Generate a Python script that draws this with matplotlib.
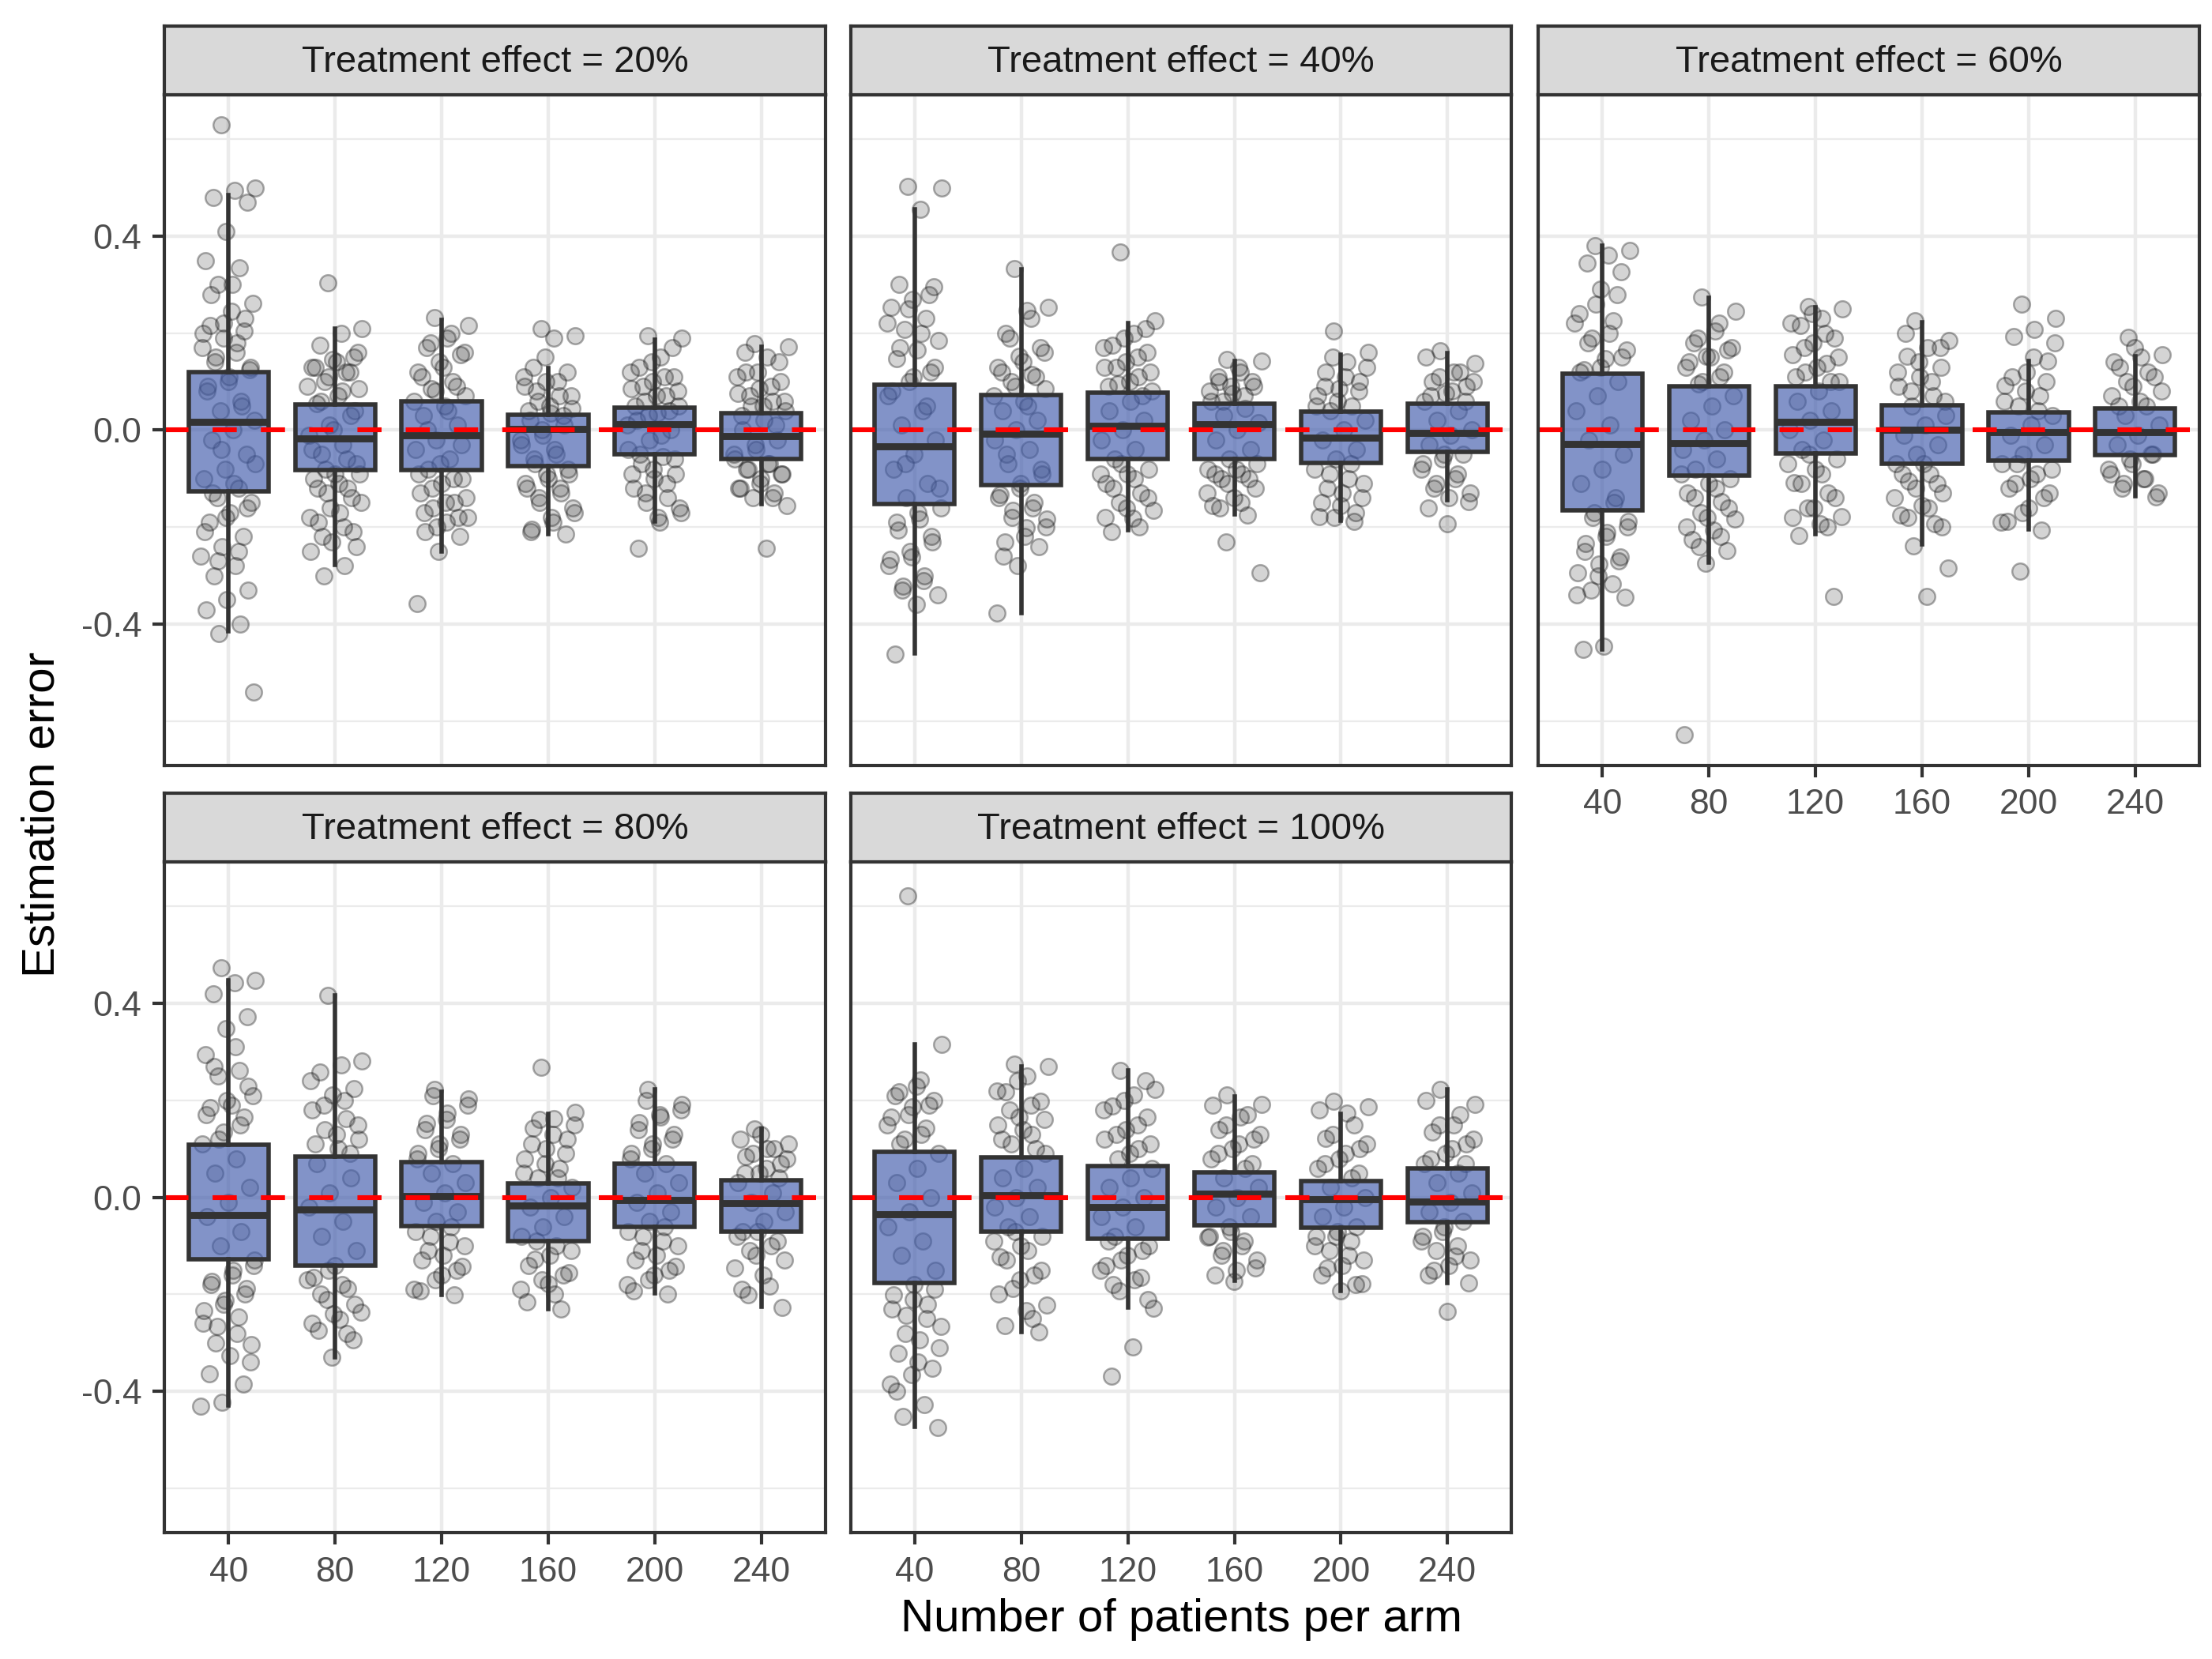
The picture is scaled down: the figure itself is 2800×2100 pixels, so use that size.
import matplotlib
matplotlib.use('Agg')
import matplotlib.pyplot as plt
import numpy as np

plt.rcParams['font.family'] = ['Liberation Sans', 'DejaVu Sans']

########################################################################################
# data
effects = ['20%', '40%', '60%', '80%', '100%']
arm_sizes = ['40', '80', '120', '160', '200', '240']

# box stats per effect: one (whisker low, q1, median, q3, whisker high) per arm size
box_20 = [(-0.414, -0.127, 0.017, 0.120, 0.485), (-0.278, -0.082, -0.018, 0.053, 0.209),
          (-0.251, -0.083, -0.010, 0.060, 0.227), (-0.215, -0.075, 0.002, 0.032, 0.128),
          (-0.188, -0.050, 0.012, 0.046, 0.187), (-0.153, -0.060, -0.013, 0.035, 0.171)]
box_40 = [(-0.460, -0.152, -0.033, 0.094, 0.455), (-0.377, -0.114, -0.008, 0.073, 0.331),
          (-0.207, -0.060, 0.009, 0.077, 0.221), (-0.173, -0.060, 0.012, 0.054, 0.143),
          (-0.187, -0.067, -0.016, 0.038, 0.156), (-0.145, -0.045, -0.006, 0.054, 0.158)]
box_60 = [(-0.452, -0.166, -0.029, 0.116, 0.380), (-0.273, -0.093, -0.027, 0.090, 0.273),
          (-0.214, -0.048, 0.017, 0.090, 0.254), (-0.236, -0.069, 0.001, 0.052, 0.223),
          (-0.205, -0.063, -0.005, 0.036, 0.143), (-0.136, -0.051, -0.005, 0.044, 0.152)]
box_80 = [(-0.429, -0.128, -0.037, 0.108, 0.447), (-0.330, -0.140, -0.025, 0.085, 0.417),
          (-0.201, -0.059, 0.002, 0.073, 0.218), (-0.231, -0.090, -0.017, 0.029, 0.172),
          (-0.197, -0.060, -0.006, 0.069, 0.222), (-0.226, -0.070, -0.012, 0.036, 0.141)]
box_100 = [(-0.473, -0.177, -0.034, 0.094, 0.315), (-0.278, -0.070, 0.004, 0.083, 0.270),
           (-0.227, -0.085, -0.020, 0.064, 0.261), (-0.172, -0.058, 0.007, 0.052, 0.208),
           (-0.192, -0.063, -0.004, 0.033, 0.172), (-0.176, -0.051, -0.008, 0.059, 0.222)]

# individual estimation errors (visible points) per effect and arm size
pts_20 = [
    [0.630, 0.500, 0.495, 0.480, 0.470, 0.410, 0.350, 0.335, 0.300, 0.262, 0.245, 0.215, 0.205, 0.190,
     0.170, 0.160, 0.140, 0.125, 0.10, 0.08, 0.06, 0.04, 0.02, 0.0, -0.02, -0.05, -0.08, -0.10, -0.12,
     -0.14, -0.15, -0.17, -0.19, -0.22, -0.24, -0.26, -0.28, -0.30, -0.33, -0.35, -0.37, -0.40, -0.42, -0.54,
     0.30, 0.28, 0.23, 0.22, 0.20, 0.18, 0.15, 0.13, 0.11, 0.09, 0.05, -0.04, -0.07, -0.11, -0.13, -0.16,
     -0.18, -0.21, -0.25, -0.27],
    [0.304, 0.209, 0.200, 0.175, 0.150, 0.145, 0.130, 0.120, 0.100, 0.085, 0.070, 0.055, 0.03, 0.01,
     -0.01, -0.03, -0.05, -0.07, -0.09, -0.10, -0.12, -0.13, -0.15, -0.17, -0.19, -0.21, -0.23, -0.25,
     -0.28, -0.30, 0.16, 0.14, 0.13, 0.12, 0.11, 0.09, 0.08, 0.06, 0.04, 0.0, -0.04, -0.06, -0.08, -0.09,
     -0.11, -0.12, -0.14, -0.16, -0.18, -0.20, -0.22, -0.24],
    [0.232, 0.215, 0.190, 0.170, 0.155, 0.140, 0.120, 0.100, 0.085, 0.070, 0.05, 0.03, 0.01, -0.02,
     -0.04, -0.06, -0.08, -0.10, -0.11, -0.13, -0.15, -0.16, -0.18, -0.19, -0.21, -0.22, -0.25, -0.358,
     0.20, 0.18, 0.16, 0.13, 0.11, 0.09, 0.08, 0.06, 0.04, 0.0, -0.03, -0.07, -0.09, -0.10, -0.12, -0.14,
     -0.15, -0.17, -0.18, -0.20],
    [0.209, 0.194, 0.190, 0.130, 0.120, 0.100, 0.090, 0.070, 0.060, 0.045, 0.035, 0.02, 0.01, -0.01,
     -0.03, -0.05, -0.07, -0.09, -0.10, -0.12, -0.13, -0.15, -0.17, -0.19, -0.205, -0.215,
     0.15, 0.11, 0.10, 0.08, 0.07, 0.05, 0.04, 0.03, 0.0, -0.02, -0.04, -0.06, -0.08, -0.09, -0.11, -0.12,
     -0.14, -0.16, -0.18, -0.21],
    [0.194, 0.190, 0.150, 0.130, 0.110, 0.100, 0.085, 0.070, 0.060, 0.050, 0.035, 0.02, 0.0, -0.02,
     -0.04, -0.055, -0.07, -0.09, -0.10, -0.12, -0.14, -0.15, -0.17, -0.19, -0.243,
     0.17, 0.14, 0.12, 0.11, 0.09, 0.08, 0.07, 0.05, 0.04, 0.03, 0.01, -0.01, -0.05, -0.06, -0.08, -0.09,
     -0.11, -0.13, -0.16, -0.18],
    [0.179, 0.171, 0.150, 0.120, 0.100, 0.085, 0.075, 0.060, 0.050, 0.040, 0.02, 0.0, -0.02, -0.04,
     -0.06, -0.07, -0.08, -0.09, -0.10, -0.12, -0.13, -0.14, -0.155, -0.243,
     0.16, 0.14, 0.12, 0.11, 0.09, 0.07, 0.06, 0.05, 0.03, 0.01, -0.03, -0.05, -0.07, -0.08, -0.09, -0.11,
     -0.12, -0.14],
]
pts_40 = [
    [0.503, 0.500, 0.455, 0.300, 0.295, 0.270, 0.253, 0.230, 0.207, 0.184, 0.165, 0.147, 0.120, 0.10,
     0.07, 0.04, 0.01, -0.02, -0.05, -0.08, -0.11, -0.14, -0.16, -0.184, -0.207, -0.23, -0.262, -0.267,
     -0.30, -0.322, -0.34, -0.36, -0.462,
     0.28, 0.25, 0.22, 0.20, 0.17, 0.13, 0.11, 0.08, 0.05, -0.07, -0.12, -0.17, -0.19, -0.22, -0.25,
     -0.28, -0.31, -0.33],
    [0.333, 0.253, 0.246, 0.200, 0.170, 0.152, 0.130, 0.115, 0.100, 0.085, 0.06, 0.04, 0.02, 0.0,
     -0.02, -0.04, -0.07, -0.09, -0.11, -0.133, -0.150, -0.166, -0.184, -0.202, -0.23, -0.24, -0.28, -0.377,
     0.23, 0.19, 0.16, 0.14, 0.12, 0.11, 0.09, 0.07, 0.05, -0.05, -0.08, -0.12, -0.14, -0.16, -0.18,
     -0.20, -0.22, -0.26],
    [0.368, 0.225, 0.200, 0.175, 0.160, 0.140, 0.129, 0.110, 0.095, 0.080, 0.06, 0.04, 0.02, 0.0,
     -0.02, -0.04, -0.06, -0.08, -0.09, -0.11, -0.13, -0.15, -0.165, -0.182, -0.21,
     0.21, 0.19, 0.17, 0.15, 0.13, 0.12, 0.10, 0.09, 0.07, -0.07, -0.09, -0.10, -0.12, -0.14, -0.16,
     -0.18, -0.20],
    [0.145, 0.143, 0.120, 0.100, 0.090, 0.075, 0.060, 0.045, 0.03, 0.015, 0.0, -0.02, -0.04, -0.06,
     -0.08, -0.09, -0.10, -0.12, -0.14, -0.155, -0.175, -0.230, -0.294,
     0.13, 0.11, 0.10, 0.09, 0.08, 0.07, 0.06, -0.07, -0.08, -0.09, -0.10, -0.11, -0.13, -0.15, -0.16],
    [0.204, 0.161, 0.140, 0.120, 0.100, 0.085, 0.070, 0.050, 0.04, 0.02, 0.0, -0.02, -0.04, -0.06,
     -0.08, -0.10, -0.12, -0.14, -0.156, -0.179, -0.188,
     0.15, 0.13, 0.11, 0.09, 0.08, 0.06, 0.05, -0.07, -0.09, -0.11, -0.13, -0.15, -0.17, -0.18],
    [0.164, 0.138, 0.120, 0.100, 0.090, 0.075, 0.06, 0.04, 0.02, 0.0, -0.01, -0.03, -0.05, -0.06,
     -0.08, -0.10, -0.12, -0.147, -0.193,
     0.15, 0.12, 0.11, 0.10, 0.08, 0.07, 0.06, -0.05, -0.07, -0.09, -0.11, -0.13, -0.14, -0.16],
]
pts_60 = [
    [0.380, 0.370, 0.360, 0.345, 0.326, 0.290, 0.240, 0.225, 0.190, 0.166, 0.147, 0.125, 0.10, 0.07,
     0.04, 0.01, -0.02, -0.05, -0.08, -0.11, -0.14, -0.17, -0.189, -0.211, -0.234, -0.262, -0.276,
     -0.294, -0.317, -0.33, -0.345, -0.446, -0.452,
     0.28, 0.26, 0.22, 0.20, 0.18, 0.15, 0.13, 0.12, -0.15, -0.18, -0.20, -0.22, -0.25, -0.27, -0.30, -0.34],
    [0.274, 0.245, 0.205, 0.180, 0.166, 0.152, 0.130, 0.110, 0.095, 0.07, 0.05, 0.02, 0.0, -0.02,
     -0.04, -0.06, -0.08, -0.10, -0.11, -0.13, -0.147, -0.17, -0.184, -0.207, -0.225, -0.248, -0.274, -0.628,
     0.22, 0.19, 0.17, 0.15, 0.14, 0.12, 0.10, -0.09, -0.12, -0.14, -0.16, -0.18, -0.20, -0.22, -0.24],
    [0.255, 0.250, 0.230, 0.216, 0.190, 0.180, 0.156, 0.138, 0.120, 0.100, 0.08, 0.06, 0.04, 0.02,
     0.0, -0.02, -0.04, -0.06, -0.08, -0.108, -0.129, -0.161, -0.179, -0.193, -0.218, -0.343,
     0.24, 0.22, 0.20, 0.17, 0.15, 0.13, 0.11, 0.10, -0.05, -0.07, -0.09, -0.11, -0.14, -0.16, -0.18, -0.20],
    [0.225, 0.184, 0.170, 0.152, 0.130, 0.110, 0.090, 0.070, 0.05, 0.03, 0.01, -0.01, -0.03, -0.05,
     -0.07, -0.09, -0.106, -0.129, -0.156, -0.175, -0.193, -0.239, -0.285, -0.343,
     0.20, 0.17, 0.14, 0.12, 0.10, 0.08, 0.06, -0.07, -0.09, -0.11, -0.12, -0.14, -0.16, -0.18, -0.20],
    [0.259, 0.230, 0.207, 0.193, 0.143, 0.120, 0.092, 0.070, 0.05, 0.03, 0.01, -0.01, -0.03, -0.05,
     -0.07, -0.09, -0.11, -0.129, -0.16, -0.189, -0.207, -0.291,
     0.18, 0.15, 0.11, 0.10, 0.08, 0.06, 0.04, -0.07, -0.08, -0.10, -0.12, -0.14, -0.17, -0.19],
    [0.191, 0.155, 0.150, 0.130, 0.110, 0.090, 0.07, 0.05, 0.03, 0.01, -0.01, -0.03, -0.05, -0.06,
     -0.08, -0.10, -0.12, -0.138,
     0.17, 0.14, 0.12, 0.10, 0.08, 0.06, 0.05, -0.05, -0.07, -0.09, -0.10, -0.11, -0.13],
]
pts_80 = [
    [0.474, 0.447, 0.442, 0.420, 0.373, 0.348, 0.295, 0.261, 0.251, 0.210, 0.190, 0.185, 0.166, 0.134,
     0.11, 0.08, 0.05, 0.02, -0.01, -0.04, -0.07, -0.10, -0.13, -0.151, -0.174, -0.188, -0.212, -0.234,
     -0.247, -0.266, -0.303, -0.326, -0.364, -0.385, -0.422, -0.43,
     0.31, 0.27, 0.23, 0.20, 0.17, 0.15, 0.12, -0.14, -0.16, -0.18, -0.20, -0.22, -0.26, -0.28, -0.30, -0.34],
    [0.417, 0.282, 0.274, 0.258, 0.225, 0.212, 0.180, 0.162, 0.139, 0.120, 0.10, 0.07, 0.04, 0.01,
     -0.02, -0.05, -0.08, -0.11, -0.14, -0.165, -0.188, -0.210, -0.237, -0.252, -0.275, -0.293, -0.330,
     0.24, 0.20, 0.19, 0.15, 0.13, 0.11, 0.09, -0.15, -0.17, -0.18, -0.20, -0.22, -0.24, -0.26, -0.28],
    [0.222, 0.203, 0.174, 0.153, 0.130, 0.110, 0.090, 0.07, 0.05, 0.03, 0.01, -0.01, -0.03, -0.05,
     -0.07, -0.091, -0.109, -0.142, -0.16, -0.192, -0.201,
     0.21, 0.19, 0.16, 0.14, 0.12, 0.10, 0.08, -0.06, -0.08, -0.10, -0.12, -0.13, -0.15, -0.17, -0.19],
    [0.268, 0.176, 0.162, 0.143, 0.120, 0.100, 0.080, 0.06, 0.04, 0.02, 0.0, -0.02, -0.04, -0.06,
     -0.08, -0.10, -0.128, -0.155, -0.178, -0.215, -0.231,
     0.16, 0.15, 0.13, 0.11, 0.09, 0.07, 0.05, 0.04, -0.09, -0.11, -0.12, -0.14, -0.16, -0.17, -0.19, -0.20],
    [0.223, 0.192, 0.166, 0.155, 0.130, 0.110, 0.090, 0.07, 0.05, 0.03, 0.01, -0.01, -0.03, -0.05,
     -0.07, -0.09, -0.11, -0.142, -0.16, -0.192, -0.199,
     0.20, 0.18, 0.17, 0.14, 0.12, 0.10, 0.08, -0.06, -0.08, -0.10, -0.12, -0.13, -0.15, -0.17, -0.18],
    [0.142, 0.111, 0.100, 0.085, 0.07, 0.05, 0.03, 0.01, -0.01, -0.03, -0.05, -0.07, -0.09, -0.119,
     -0.146, -0.183, -0.201, -0.227,
     0.13, 0.12, 0.10, 0.09, 0.08, 0.06, 0.05, 0.04, -0.07, -0.08, -0.10, -0.11, -0.13, -0.16, -0.19],
]
pts_100 = [
    [0.622, 0.315, 0.242, 0.217, 0.200, 0.187, 0.166, 0.143, 0.12, 0.09, 0.06, 0.03, 0.0, -0.03,
     -0.06, -0.09, -0.12, -0.15, -0.18, -0.201, -0.220, -0.243, -0.266, -0.293, -0.321, -0.353, -0.365,
     -0.385, -0.427, -0.452, -0.474,
     0.23, 0.21, 0.19, 0.17, 0.15, 0.13, 0.11, -0.19, -0.21, -0.23, -0.25, -0.28, -0.31, -0.34, -0.40],
    [0.275, 0.270, 0.251, 0.217, 0.199, 0.166, 0.150, 0.130, 0.110, 0.09, 0.06, 0.04, 0.02, 0.0,
     -0.02, -0.04, -0.06, -0.08, -0.10, -0.123, -0.16, -0.188, -0.222, -0.234, -0.264, -0.278,
     0.24, 0.22, 0.19, 0.18, 0.16, 0.14, 0.12, 0.10, -0.07, -0.09, -0.11, -0.13, -0.15, -0.17, -0.20, -0.25],
    [0.261, 0.222, 0.212, 0.189, 0.166, 0.140, 0.120, 0.100, 0.08, 0.06, 0.04, 0.02, 0.0, -0.02,
     -0.04, -0.06, -0.08, -0.10, -0.119, -0.14, -0.165, -0.192, -0.229, -0.309, -0.369,
     0.24, 0.20, 0.18, 0.15, 0.13, 0.11, 0.09, -0.09, -0.11, -0.13, -0.15, -0.17, -0.18, -0.21],
    [0.212, 0.191, 0.166, 0.139, 0.120, 0.100, 0.08, 0.06, 0.04, 0.02, 0.0, -0.02, -0.04, -0.06,
     -0.082, -0.10, -0.12, -0.146, -0.174,
     0.19, 0.17, 0.15, 0.13, 0.11, 0.09, 0.07, -0.07, -0.08, -0.09, -0.11, -0.13, -0.15, -0.16],
    [0.199, 0.187, 0.174, 0.122, 0.100, 0.080, 0.06, 0.04, 0.02, 0.0, -0.02, -0.04, -0.06, -0.08,
     -0.10, -0.12, -0.146, -0.178, -0.192,
     0.18, 0.15, 0.13, 0.11, 0.09, 0.07, 0.05, -0.07, -0.08, -0.09, -0.11, -0.13, -0.14, -0.16, -0.18],
    [0.223, 0.192, 0.150, 0.134, 0.110, 0.090, 0.07, 0.05, 0.03, 0.01, -0.01, -0.03, -0.05, -0.07,
     -0.09, -0.121, -0.151, -0.177, -0.235,
     0.20, 0.17, 0.15, 0.12, 0.10, 0.08, 0.07, -0.06, -0.08, -0.10, -0.11, -0.13, -0.14, -0.16],
]

box_stats = [box_20, box_40, box_60, box_80, box_100]
points = [pts_20, pts_40, pts_60, pts_80, pts_100]

########################################################################################
FIG_W, FIG_H, DPI = 14, 10.5, 200
BOX_FACE = (0.247, 0.353, 0.671, 0.65)
DARK = '#333333'
GRID = '#EBEBEB'

fig = plt.figure(figsize=(FIG_W, FIG_H), dpi=DPI)

col_left = [0.0744, 0.3846, 0.6955]
row_bottom = [0.5385, 0.076]
pw, ph, sh = 0.2987, 0.4045, 0.0415

positions = np.arange(1, len(arm_sizes) + 1)


def jitter_offsets(n, width=0.26):
    # deterministic spread (golden ratio sequence), horizontal placement only
    k = np.arange(n)
    return ((k * 0.6180339887 + 0.37) % 1.0 - 0.5) * 2 * width


for i, eff in enumerate(effects):
    r, c = divmod(i, 3)
    ax = fig.add_axes([col_left[c], row_bottom[r], pw, ph])
    ax.set_xlim(0.4, 6.6)
    ax.set_ylim(-0.692, 0.692)

    # grid
    for y in [-0.6, -0.2, 0.2, 0.6]:
        ax.axhline(y, color=GRID, lw=0.8, zorder=0)
    for y in [-0.4, 0.0, 0.4]:
        ax.axhline(y, color=GRID, lw=1.6, zorder=0)
    for x in positions:
        ax.axvline(x, color=GRID, lw=1.6, zorder=0)

    # jittered points
    for j, vals in enumerate(points[i]):
        vals = np.array(vals)
        xs = positions[j] + jitter_offsets(len(vals))
        ax.scatter(xs, vals, s=55, facecolor=(0, 0, 0, 0.17), edgecolor=(0, 0, 0, 0.32),
                   linewidths=0.9, zorder=2)

    # boxes
    stats = []
    for lo, q1, med, q3, hi in box_stats[i]:
        stats.append({'whislo': lo, 'q1': q1, 'med': med, 'q3': q3, 'whishi': hi, 'fliers': []})
    ax.bxp(stats, positions=positions, widths=0.75, patch_artist=True, showcaps=False,
           showfliers=False, manage_ticks=False,
           boxprops=dict(facecolor=BOX_FACE, edgecolor=DARK, linewidth=2.0),
           medianprops=dict(color=DARK, linewidth=3.2, solid_capstyle='butt'),
           whiskerprops=dict(color=DARK, linewidth=2.0), zorder=3)

    # reference line
    ax.axhline(0.0, color='#FF0000', lw=2.2, dashes=(5, 5), zorder=4)

    for sp in ax.spines.values():
        sp.set_color(DARK)
        sp.set_linewidth(1.5)
        sp.set_zorder(5)

    ax.tick_params(colors=DARK, width=1.5, length=5.5, labelcolor='#4D4D4D', labelsize=16, pad=5)
    ax.set_yticks([-0.4, 0.0, 0.4])
    ax.set_xticks(positions)
    if c == 0:
        ax.set_yticklabels(['-0.4', '0.0', '0.4'])
    else:
        ax.tick_params(axis='y', left=False, labelleft=False)
    if r == 1 or c == 2:
        ax.set_xticklabels(arm_sizes)
    else:
        ax.tick_params(axis='x', bottom=False, labelbottom=False)

    # facet strip
    sax = fig.add_axes([col_left[c], row_bottom[r] + ph, pw, sh])
    sax.set_facecolor('#D9D9D9')
    sax.set_xticks([])
    sax.set_yticks([])
    for sp in sax.spines.values():
        sp.set_color(DARK)
        sp.set_linewidth(1.5)
    sax.text(0.5, 0.47, 'Treatment effect = {}'.format(eff), ha='center', va='center',
             fontsize=17, color='#1A1A1A', transform=sax.transAxes)

fig.text(0.534, 0.024, 'Number of patients per arm', ha='center', va='center', fontsize=21)
fig.text(0.019, 0.509, 'Estimation error', ha='center', va='center', rotation=90, fontsize=21)

plt.savefig('out.png', dpi=DPI)
